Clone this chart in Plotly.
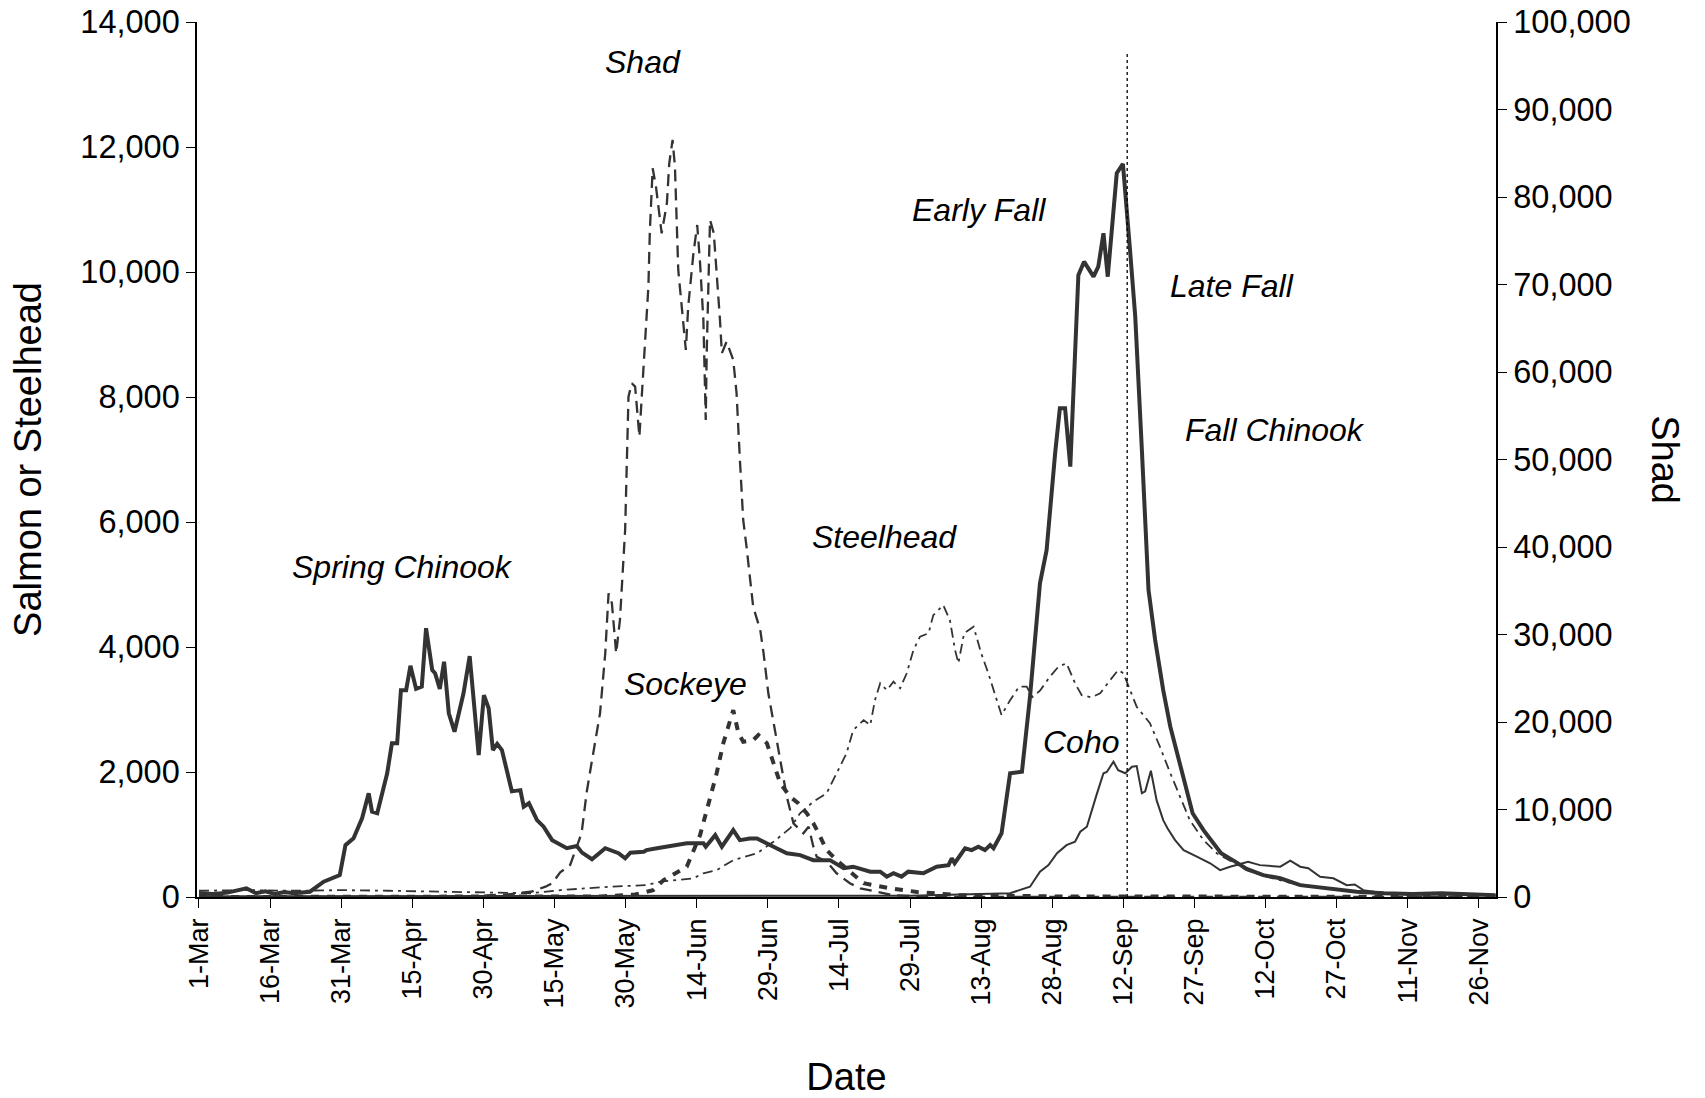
import pandas as pd
import plotly.graph_objects as go

# ---------------- data (day offsets from 1-Mar, counts) ----------------
chinook_day = [0, 3, 6, 8, 10, 12, 14, 16, 18, 20, 23.4, 26.3, 28.4, 29.7, 30.9, 32.6, 34.4, 35.8, 36.5, 37.6,
               39.7, 40.7, 41.8, 42.6, 43.7, 44.6, 45.8, 47.0, 47.9, 49.2, 49.8, 50.8, 51.7, 52.7, 53.9, 55.8,
               57.1, 58.1, 59.0, 60.1, 61.1, 62.0, 62.9, 63.9, 65.0, 66.0, 67.8, 68.5, 69.6, 71.3, 72.7, 74.5,
               77.6, 79.7, 80.8, 82.9, 85.7, 88.5, 89.9, 91.0, 93.8, 94.4, 96.6, 98.7, 102.9, 106.4, 106.9,
               108.9, 110.3, 112.7, 114.1, 116.2, 117.7, 121.2, 124.0, 126.8, 129.6, 133.1, 136.0, 138.0,
               141.6, 143.7, 145.1, 146.5, 148.2, 149.6, 152.8, 155.6, 158.1, 158.8, 159.4, 161.6, 163.0,
               164.4, 165.8, 166.9, 167.6, 169.3, 171.1, 173.6, 175.3, 177.4, 178.8, 180.6, 181.6, 182.7,
               183.8, 185.5, 186.7, 188.7, 189.7, 190.8, 191.7, 193.6, 194.9, 196.4, 197.5, 198.9, 199.9,
               200.3, 201.7, 203.4, 204.9, 207.0, 209.6, 211.9, 215.6, 218.5, 221.0, 224.5, 228.1, 232.3,
               235.1, 239.3, 244.2, 250, 256, 262, 268, 273.5]
chinook_val = [60, 50, 70, 100, 140, 60, 90, 50, 80, 60, 85, 245, 300, 350, 830, 940, 1260, 1660, 1365, 1340,
               1980, 2460, 2460, 3310, 3310, 3700, 3330, 3365, 4300, 3630, 3580, 3330, 3765, 2940, 2645, 3260,
               3855, 2940, 2270, 3230, 3020, 2350, 2450, 2350, 1980, 1690, 1710, 1445, 1500, 1230, 1125, 910,
               780, 815, 710, 605, 780, 700, 620, 710, 725, 750, 780, 805, 860, 860, 805,
               990, 805, 1070, 910, 935, 935, 805, 700, 670, 590, 590, 460, 485,
               405, 405, 325, 380, 325, 405, 380, 485, 510, 620, 540, 780, 750,
               805, 750, 830, 780, 1020, 1980, 2005, 3205, 5020, 5550, 7100, 7820, 7820,
               6885, 9950, 10165, 9925, 10085, 10620, 9925, 11580, 11730, 10350, 9285, 7150, 5550,
               4910, 4110, 3310, 2725, 2085, 1340, 1070, 700, 570, 450, 350, 300, 190,
               165, 140, 85, 60, 50, 60, 40, 30]

coho_day = [0, 60, 120, 150, 165, 171.1, 175.3, 177.4, 179.2, 181.0, 183.0, 184.8, 185.9, 187.3, 189.4,
            190.8, 191.5, 192.9, 193.9, 195.4, 196.8, 197.8, 198.9, 199.6, 200.8, 202.0, 203.4, 204.3,
            205.9, 207.7, 210.5, 213.3, 215.4, 217.5, 221.3, 223.8, 228.1, 230.2, 232.3, 234.0, 236.5,
            239.3, 242.1, 243.8, 245.6, 250, 256, 262, 268, 273.5]
coho_val = [10, 20, 20, 20, 40, 60, 165, 405, 510, 700, 830, 885, 1045, 1125, 1650,
            1980, 2000, 2165, 2030, 1980, 2085, 2095, 1660, 1690, 2020, 1550, 1230, 1100,
            910, 750, 645, 540, 430, 485, 565, 510, 485, 580, 485, 460, 325,
            300, 190, 200, 110, 60, 40, 50, 30, 30]

steelhead_day = [0, 10, 20, 30, 40, 50, 60, 70, 76.2, 86.7, 94.4, 97.3, 100.8, 104.3, 106.4, 109.2, 112.7,
                 117.7, 121.2, 124.7, 126.8, 129.6, 132.4, 134.5, 136.6, 138.0, 140.2, 141.6, 142.6, 143.7,
                 145.1, 146.5, 147.9, 149.3, 150.7, 152.1, 153.9, 154.9, 157.0, 158.4, 159.5, 160.2, 161.4,
                 163.4, 165.0, 166.5, 168.0, 169.3, 171.1, 173.0, 174.6, 175.8, 177.4, 179.5, 181.3, 183.0,
                 184.8, 186.2, 188.3, 190.1, 192.2, 193.9, 195.0, 196.1, 197.8, 200.6, 202.7, 204.9, 207.0,
                 209.0, 211.9, 214.7, 218, 221, 225, 230, 235, 240, 245, 255, 265, 273.5]
steelhead_val = [100, 110, 100, 110, 100, 90, 80, 60, 110, 165, 190, 245, 270, 300, 380, 430, 590,
                 700, 885, 1100, 1340, 1525, 1660, 1980, 2300, 2670, 2830, 2750, 3150, 3420,
                 3310, 3445, 3340, 3580, 3950, 4165, 4220, 4510, 4670, 4430, 3950, 3740, 4220,
                 4325, 3900, 3580, 3230, 2910, 3150, 3365, 3365, 3200, 3300, 3525, 3685, 3740,
                 3420, 3230, 3195, 3260, 3470, 3630, 3580, 3365, 3045, 2780, 2405, 1980, 1605,
                 1230, 910, 700, 560, 430, 330, 230, 170, 120, 80, 50, 40, 30]

sockeye_day = [0, 60, 85, 92, 95.8, 98.0, 102.9, 105.7, 107.5, 109.2, 110.6, 112.7, 113.8, 114.8, 116.9,
               118.0, 119.8, 121.2, 122.6, 124.7, 126.4, 128.2, 129.6, 130.7, 132.4, 134.5, 138.0, 140.2,
               145.8, 151.5, 160, 180, 273.5]
sockeye_val = [0, 0, 10, 40, 110, 270, 485, 990, 1500, 1980, 2460, 2990, 2620, 2485, 2510,
               2590, 2460, 2140, 1820, 1605, 1500, 1340, 1180, 1020, 750, 590, 350, 220,
               140, 80, 30, 10, 0]

shad_day = [0, 55, 65, 70, 73.1, 74.5, 76.2, 78.3, 80.7, 81.8, 82.8, 84.6, 85.7, 86.4, 87.1, 88.0, 88.8,
            89.9, 90.6, 91.3, 92.0, 92.9, 93.4, 94.1, 94.8, 95.1, 95.7, 96.4, 97.1, 97.6, 98.7, 99.2, 99.9,
            100.4, 101.1, 101.8, 102.7, 103.2, 104.3, 105.1, 105.7, 106.4, 106.9, 107.1, 107.8, 108.6,
            109.2, 109.9, 110.3, 111.3, 112.7, 113.4, 114.1, 114.8, 115.5, 116.9, 118.4, 119.1, 120.1,
            121.9, 122.9, 124.0, 125.4, 127.5, 128.6, 129.6, 130.3, 132.4, 134.5, 137.3, 139.5, 146.5,
            155, 273.5]
shad_val = [0, 0, 300, 600, 1180, 1570, 2820, 3660, 7280, 12030, 15280, 21000, 27850, 34710, 33570, 27850, 31660,
            42000, 57180, 58710, 58330, 52610, 57180, 64030, 69750, 76000, 83280, 81180, 78140, 75850, 79280, 83850, 86520,
            83470, 71660, 67850, 62520, 67470, 73570, 76800, 72420, 65950, 54520, 62140, 77380, 75850,
            71660, 65950, 62140, 63470, 61380, 57570, 50000, 43090, 40040, 33180, 30510, 27850, 23280,
            17940, 14890, 11460, 8420, 7280, 8030, 5750, 4610, 4040, 2710, 1570, 990, 200,
            0, 0]

tick_days = [0, 15, 30, 45, 60, 75, 90, 105, 120, 135, 150, 165, 180, 195, 210, 225, 240, 255, 270]
tick_labels = ["1-Mar", "16-Mar", "31-Mar", "15-Apr", "30-Apr", "15-May", "30-May", "14-Jun", "29-Jun",
               "14-Jul", "29-Jul", "13-Aug", "28-Aug", "12-Sep", "27-Sep", "12-Oct", "27-Oct", "11-Nov", "26-Nov"]

divider_day = 195.8  # dotted line between early and late fall chinook

# label text and its position (day, left-axis value)
label_text = ["Shad", "Early Fall", "Late Fall", "Fall Chinook", "Steelhead", "Spring Chinook", "Sockeye", "Coho"]
label_day = [93.7, 164.6, 217.9, 227.0, 144.7, 43.0, 102.7, 186.1]
label_val = [13360, 10990, 9776, 7472, 5760, 5280, 3408, 2480]

# ---------------- helpers ----------------
BASE = pd.Timestamp("2001-03-01")


def to_dates(days):
    return BASE + pd.to_timedelta(pd.Series(days, dtype=float), unit="D")


LINE = "#333333"
FONT = "Liberation Sans, Arial, sans-serif"

fig = go.Figure()

fig.add_trace(go.Scatter(x=to_dates(shad_day), y=shad_val, yaxis="y2", mode="lines", name="Shad",
                         line=dict(color=LINE, width=2.3, dash="12px,7px")))
fig.add_trace(go.Scatter(x=to_dates(steelhead_day), y=steelhead_val, mode="lines", name="Steelhead",
                         line=dict(color=LINE, width=1.8, dash="10px,5px,3px,5px")))
fig.add_trace(go.Scatter(x=to_dates(sockeye_day), y=sockeye_val, mode="lines", name="Sockeye",
                         line=dict(color=LINE, width=4, dash="8px,8px")))
fig.add_trace(go.Scatter(x=to_dates(coho_day), y=coho_val, mode="lines", name="Coho",
                         line=dict(color=LINE, width=2)))
fig.add_trace(go.Scatter(x=to_dates(chinook_day), y=chinook_val, mode="lines", name="Chinook",
                         line=dict(color=LINE, width=4)))

# vertical dotted divider
div_date = to_dates([divider_day])[0]
fig.add_shape(type="line", xref="x", yref="y", x0=div_date, x1=div_date, y0=0, y1=13520,
              line=dict(color="#000000", width=1.3, dash="dot"))

for t, d, v in zip(label_text, label_day, label_val):
    fig.add_annotation(x=to_dates([d])[0], y=v, xref="x", yref="y", text="<i>" + t + "</i>",
                       showarrow=False, font=dict(family=FONT, size=32, color="#000000"))

# right-axis title reading top-to-bottom
fig.add_annotation(xref="paper", yref="paper", x=1.148, y=0.5, text="Shad", textangle=90,
                   showarrow=False, font=dict(family=FONT, size=38, color="#000000"))

tick_dates = to_dates(tick_days)
x_range = [BASE + pd.Timedelta(days=-0.42), BASE + pd.Timedelta(days=273.6)]

fig.update_layout(
    width=1705, height=1098,
    margin=dict(l=197, r=209, t=22, b=201, autoexpand=False),
    paper_bgcolor="white", plot_bgcolor="white",
    showlegend=False,
    font=dict(family=FONT, color="#000000"),
    xaxis=dict(type="date", range=x_range, tickmode="array", tickvals=list(tick_dates), ticktext=tick_labels,
               tickangle=-90, tickfont=dict(size=27), ticks="outside", ticklen=9, tickcolor="#000",
               showline=True, linecolor="#000", linewidth=1.5, showgrid=False, zeroline=False, automargin=False,
               title=dict(text="Date", font=dict(size=38), standoff=58)),
    yaxis=dict(range=[0, 14000], tickmode="linear", dtick=2000, tickformat=",", tickfont=dict(size=32.5),
               ticks="outside", ticklen=9, tickcolor="#000", showline=True, linecolor="#000", linewidth=1.5,
               showgrid=False, zeroline=False, automargin=False, ticklabeloverflow="allow",
               title=dict(text="Salmon or Steelhead", font=dict(size=38), standoff=27)),
    yaxis2=dict(range=[0, 100000], overlaying="y", side="right", tickmode="linear", dtick=10000,
                tickformat=",", tickfont=dict(size=32.5), ticks="outside", ticklen=9, tickcolor="#000",
                showline=True, linecolor="#000", linewidth=1.5, showgrid=False, zeroline=False, automargin=False,
                ticklabeloverflow="allow"),
)

fig.write_html("out.html", config={"displayModeBar": False},
               post_script="document.body.style.margin='0';")
